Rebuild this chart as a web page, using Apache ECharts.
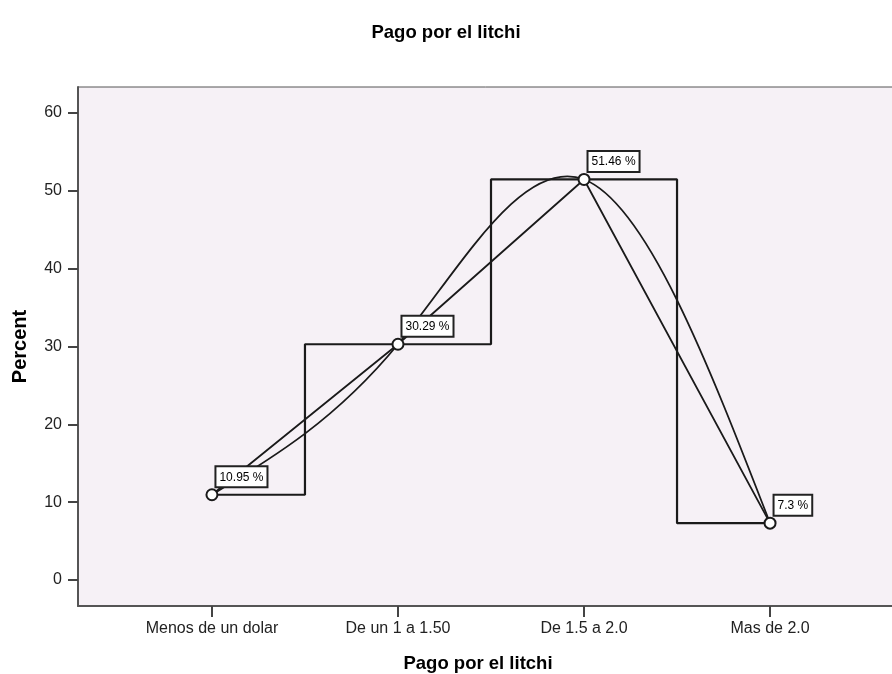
<!DOCTYPE html>
<html>
<head>
<meta charset="utf-8">
<script src="https://cdn.jsdelivr.net/npm/echarts@6/dist/echarts.min.js"></script>
<style>html,body{margin:0;padding:0;background:#fff;overflow:hidden}#c{width:892px;height:674px}</style>
</head>
<body>
<div id="c"></div>
<script>
const categories = ['Menos de un dolar', 'De un 1 a 1.50', 'De 1.5 a 2.0', 'Mas de 2.0'];
const percents = [10.95, 30.29, 51.46, 7.3];
const percentLabels = ['10.95 %', '30.29 %', '51.46 %', '7.3 %'];
const yTicks = [0, 10, 20, 30, 40, 50, 60];

const pts = percents.map((v, i) => [i, v]);
const chart = echarts.init(document.getElementById('c'), null, {renderer: 'canvas'});
const lineStyle = {color: '#1a1a1a', width: 1.8};
const font = 'Liberation Sans, Arial, sans-serif';

// Natural cubic spline (interpolation line) through the projected data points
function splineSegments(P) {
  const n = P.length;
  const h = [], M = new Array(n).fill(0);
  for (let i = 0; i < n - 1; i++) h.push(P[i + 1][0] - P[i][0]);
  if (n > 2) {
    const m = n - 2, a = [], b = [], c = [], d = [];
    for (let i = 1; i <= m; i++) {
      a.push(h[i - 1]); b.push(2 * (h[i - 1] + h[i])); c.push(h[i]);
      d.push(6 * ((P[i + 1][1] - P[i][1]) / h[i] - (P[i][1] - P[i - 1][1]) / h[i - 1]));
    }
    for (let i = 1; i < m; i++) {
      const w = a[i] / b[i - 1];
      b[i] -= w * c[i - 1]; d[i] -= w * d[i - 1];
    }
    const x = new Array(m);
    x[m - 1] = d[m - 1] / b[m - 1];
    for (let i = m - 2; i >= 0; i--) x[i] = (d[i] - c[i] * x[i + 1]) / b[i];
    for (let i = 0; i < m; i++) M[i + 1] = x[i];
  }
  const segs = [];
  for (let i = 0; i < n - 1; i++) {
    const hi = h[i], s = (P[i + 1][1] - P[i][1]) / hi;
    const d0 = s - hi * (2 * M[i] + M[i + 1]) / 6;
    const d1 = s + hi * (M[i] + 2 * M[i + 1]) / 6;
    segs.push({
      x1: P[i][0], y1: P[i][1], x2: P[i + 1][0], y2: P[i + 1][1],
      cpx1: P[i][0] + hi / 3, cpy1: P[i][1] + d0 * hi / 3,
      cpx2: P[i + 1][0] - hi / 3, cpy2: P[i + 1][1] - d1 * hi / 3
    });
  }
  return segs;
}

chart.setOption({
  animation: false,
  backgroundColor: '#ffffff',
  title: {
    text: 'Pago por el litchi', left: 'center', top: 18,
    textStyle: {fontFamily: font, fontSize: 18.5, fontWeight: 'bold', color: '#000'}
  },
  grid: {left: 78, top: 87, right: -12, bottom: 68, outerBoundsMode: 'none', containLabel: false,
    show: true, backgroundColor: '#f6f1f6', borderColor: '#555', borderWidth: 1},
  xAxis: {
    type: 'value', min: -0.72, max: 3.72,
    name: 'Pago por el litchi', nameLocation: 'middle', nameGap: 48,
    nameTextStyle: {fontFamily: font, fontSize: 18.5, fontWeight: 'bold', color: '#000', padding: [0, 26, 0, 0]},
    axisLine: {show: true, onZero: false, lineStyle: {color: '#555', width: 2}},
    axisTick: {show: true, length: 11, customValues: [0, 1, 2, 3], lineStyle: {color: '#444', width: 2}},
    axisLabel: {customValues: [0, 1, 2, 3], formatter: v => categories[Math.round(v)], margin: 15,
      fontFamily: font, fontSize: 16, color: '#222'},
    splitLine: {show: false}
  },
  yAxis: {
    type: 'value', min: -3.34, max: 63.34,
    name: 'Percent', nameLocation: 'middle', nameGap: 48, nameRotate: 90,
    nameTextStyle: {fontFamily: font, fontSize: 20, fontWeight: 'bold', color: '#000'},
    axisLine: {show: true, onZero: false, lineStyle: {color: '#555', width: 2}},
    axisTick: {show: true, length: 10, customValues: yTicks, lineStyle: {color: '#444', width: 2}},
    axisLabel: {customValues: yTicks, margin: 16, fontFamily: font, fontSize: 16, color: '#222'},
    splitLine: {show: false}
  },
  series: [
    {type: 'line', data: pts, step: 'middle', showSymbol: false, lineStyle: {color: '#1a1a1a', width: 2.2}},
    {type: 'custom', data: pts, silent: true,
      renderItem: function (params, api) {
        const i = params.dataIndex;
        if (i >= pts.length - 1) return null;
        const P = pts.map(p => api.coord(p));
        const seg = splineSegments(P)[i];
        return {type: 'bezierCurve', shape: seg, style: {stroke: '#1a1a1a', fill: null, lineWidth: 1.8}};
      }},
    {type: 'line', data: pts, symbol: 'emptyCircle', symbolSize: 11,
      itemStyle: {color: '#1a1a1a', borderColor: '#1a1a1a', borderWidth: 1.8},
      lineStyle: lineStyle,
      label: {show: true, position: [11, -21], align: 'left', verticalAlign: 'top',
        formatter: p => percentLabels[p.dataIndex],
        fontFamily: font, fontSize: 12, color: '#000',
        backgroundColor: '#fff', borderColor: '#222', borderWidth: 2, padding: [4, 3, 3, 3]},
      z: 5}
  ]
});
</script>
</body>
</html>
